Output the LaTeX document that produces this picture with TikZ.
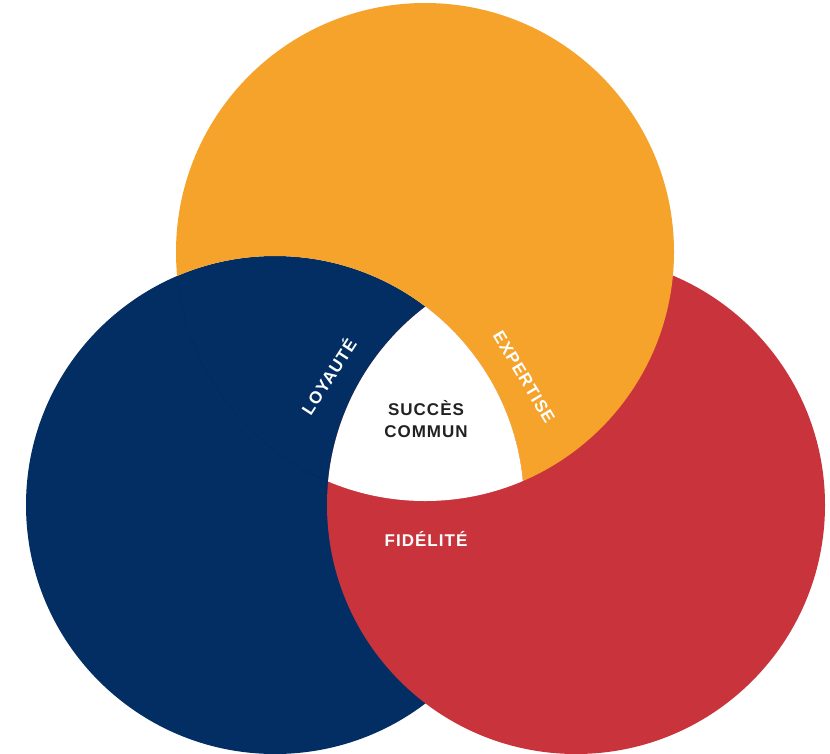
\documentclass[tikz,border=0pt]{standalone}
\usepackage{fontspec}
\setmainfont{Liberation Sans}
\definecolor{vorange}{HTML}{F5A32A}
\definecolor{vblue}{HTML}{022E63}
\definecolor{vred}{HTML}{C9343C}
\definecolor{vtext}{HTML}{222222}
\begin{document}
\begin{tikzpicture}[x=1pt,y=-1pt,
  lbl/.style={font=\bfseries\fontsize{17}{20}\selectfont\addfontfeature{LetterSpace=6}, inner sep=0pt, text=white},
  ctr/.style={font=\bfseries\fontsize{17}{22}\selectfont\addfontfeature{LetterSpace=6}, inner sep=0pt, text=vtext, align=center}]
\clip (0,0) rectangle (830,753);
\fill[white] (0,0) rectangle (830,753);
\coordinate (co) at (425,252);
\coordinate (cb) at (275,505);
\coordinate (cr) at (576,505);
% blue, then red over it
\fill[vblue] (cb) circle[radius=249pt];
\begin{scope}
  \clip (cb) circle[radius=249pt];
  \draw[vblue!93!black, line width=0.5pt] (co) circle[radius=249pt];
\end{scope}
\fill[vred] (cr) circle[radius=249pt];
% orange outside the blue circle
\begin{scope}[even odd rule]
  \clip (cb) circle[radius=249pt] (-10,-10) rectangle (840,770);
  \fill[vorange] (co) circle[radius=249pt];
\end{scope}
% common part in white
\begin{scope}
  \clip (cr) circle[radius=249pt];
  \clip (co) circle[radius=249pt];
  \fill[white] (cb) circle[radius=249pt];
\end{scope}
\node[ctr] (succes) at (426,419) {SUCCÈS\\COMMUN};
\node[lbl, rotate=57] (loyaute) at (328,376) {LOYAUTÉ};
\node[lbl, rotate=-59] (expertise) at (524,377) {EXPERTISE};
\node[lbl] (fidelite) at (426,539) {FIDÉLITÉ};
\end{tikzpicture}
\end{document}
